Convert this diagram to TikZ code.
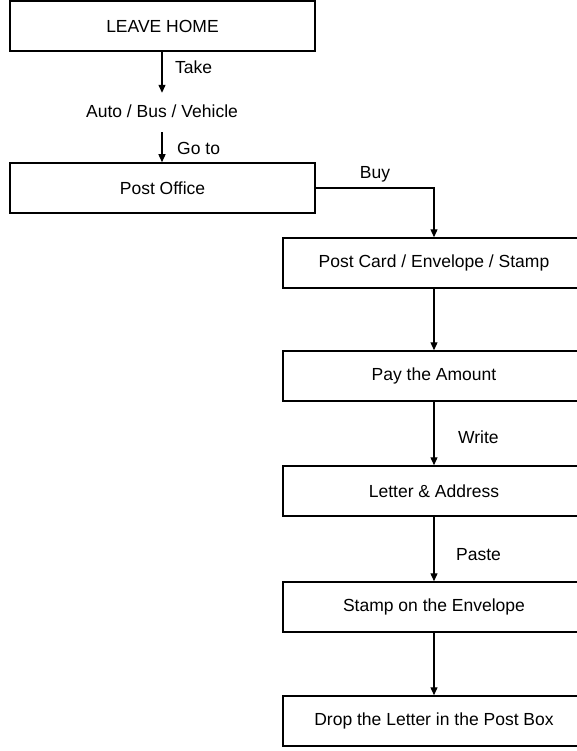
\documentclass[tikz,border=0pt]{standalone}
\usepackage{fontspec}
\setmainfont{Liberation Sans}
\usetikzlibrary{arrows.meta}
\begin{document}
\begin{tikzpicture}[x=1pt,y=1pt,
  box/.style={draw,line width=1.5pt,minimum height=50pt,inner sep=0pt,font=\fontsize{17.5}{20}\selectfont},
  lbox/.style={box,minimum width=305pt},
  rbox/.style={box,minimum width=302pt},
  lab/.style={font=\fontsize{17.5}{20}\selectfont,inner sep=0pt},
  arr/.style={line width=1.3pt,-{Triangle[length=8pt,width=7pt]}}]
\useasboundingbox (0,0) rectangle (577,-751);
\clip (0,0) rectangle (577,-751);
\node[lbox] (home) at (162.5,-26) {LEAVE HOME};
\node[lab,minimum height=36pt] (auto) at (162,-111) {Auto / Bus / Vehicle};
\node[lbox] (po) at (162.5,-188) {Post Office};
\node[rbox] (pc) at (434,-263) {Post Card / Envelope / Stamp};
\node[rbox] (pay) at (434,-376) {Pay the Amount};
\node[rbox] (letter) at (434,-491) {Letter \& Address};
\node[rbox] (stamp) at (434,-607) {Stamp on the Envelope};
\node[rbox] (drop) at (434,-721) {Drop the Letter in the Post Box};
\draw[arr] (home.south -| auto.north) -- (auto.north);
\draw[arr] ([yshift=-3pt]auto.south) -- (po.north -| auto.south);
\draw[arr] (po.east) -| (pc.north);
\draw[arr] (pc) -- (pay);
\draw[arr] (pay) -- (letter);
\draw[arr] (letter) -- (stamp);
\draw[arr] (stamp) -- (drop);
\node[lab,anchor=west] (take) at (175,-67) {Take};
\node[lab,anchor=west] (goto) at (177,-148) {Go to};
\node[lab] (buy) at (375,-174) {Buy};
\node[lab,anchor=west] (write) at (458,-437) {Write};
\node[lab,anchor=west] (paste) at (456,-555) {Paste};
\end{tikzpicture}
\end{document}
